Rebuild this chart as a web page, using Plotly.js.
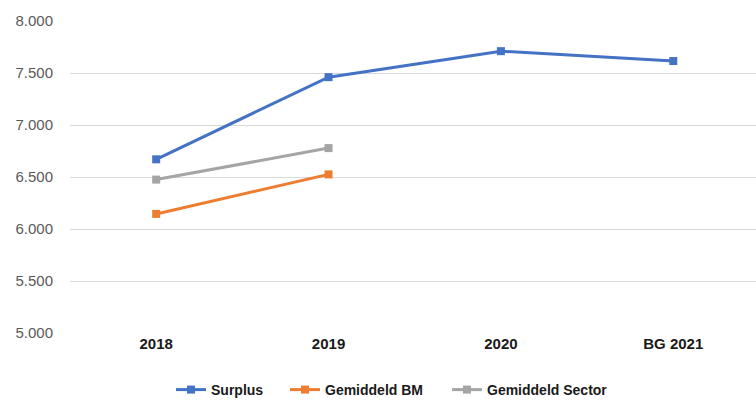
<!DOCTYPE html>
<html>
<head>
<meta charset="utf-8">
<script src="https://cdn.plot.ly/plotly-3.0.1.min.js"></script>
<style>
  html, body { margin: 0; padding: 0; background: #fff; }
  #chart { width: 756px; height: 401px; }
</style>
</head>
<body>
<div id="chart"></div>
<script>
// Categories and series values
const categories = ['2018', '2019', '2020', 'BG 2021'];
const surplus = [6670, 7460, 7710, 7615];
const gemiddeldBM = [6145, 6525, null, null];
const gemiddeldSector = [6475, 6778, null, null];
const yTicks = [5000, 5500, 6000, 6500, 7000, 7500, 8000];

const W = 756, H = 401;

function series(name, values, color, legendId) {
  return {
    type: 'scatter',
    mode: 'lines+markers',
    name: name,
    legend: legendId,
    x: categories,
    y: values,
    line: { color: color, width: 3 },
    marker: { symbol: 'square', size: 8, color: color },
    connectgaps: false,
    hoverinfo: 'x+y+name'
  };
}

const data = [
  series('Surplus', surplus, '#4472c4', 'legend'),
  series('Gemiddeld BM', gemiddeldBM, '#ed7d31', 'legend2'),
  series('Gemiddeld Sector', gemiddeldSector, '#a5a5a5', 'legend3')
];

// one legend box per series so each entry sits at its own spot in the row
function legendAt(leftPx) {
  return {
    orientation: 'h',
    xref: 'container',
    yref: 'container',
    x: leftPx / W,
    xanchor: 'left',
    y: 1 - 390 / H,
    yanchor: 'middle',
    bgcolor: 'rgba(0,0,0,0)',
    borderwidth: 0,
    itemwidth: 30,
    font: { family: 'Liberation Sans, Arial, sans-serif', size: 14, color: '#1a1a1a', weight: 'bold' }
  };
}

const layout = {
  width: W,
  height: H,
  margin: { l: 70, r: 0, t: 21, b: 68 },
  paper_bgcolor: '#ffffff',
  plot_bgcolor: '#ffffff',
  separators: ',.',
  font: { family: 'Liberation Sans, Arial, sans-serif', size: 12, color: '#595959' },
  xaxis: {
    type: 'category',
    range: [-0.5, 3.48],
    showgrid: false,
    zeroline: false,
    showline: false,
    ticks: '',
    tickfont: { size: 15, color: '#1a1a1a', weight: 'bold' },
    fixedrange: true
  },
  yaxis: {
    range: [5000, 8000],
    tickvals: yTicks,
    tickformat: ',d',
    showgrid: true,
    gridcolor: '#d9d9d9',
    gridwidth: 1,
    zeroline: false,
    showline: false,
    ticks: '',
    ticklabelstandoff: 16,
    tickfont: { size: 15, color: '#595959' },
    fixedrange: true
  },
  showlegend: true,
  legend: legendAt(171),
  legend2: legendAt(285),
  legend3: legendAt(447)
};

Plotly.newPlot('chart', data, layout, { displayModeBar: false, staticPlot: true });
</script>
</body>
</html>
